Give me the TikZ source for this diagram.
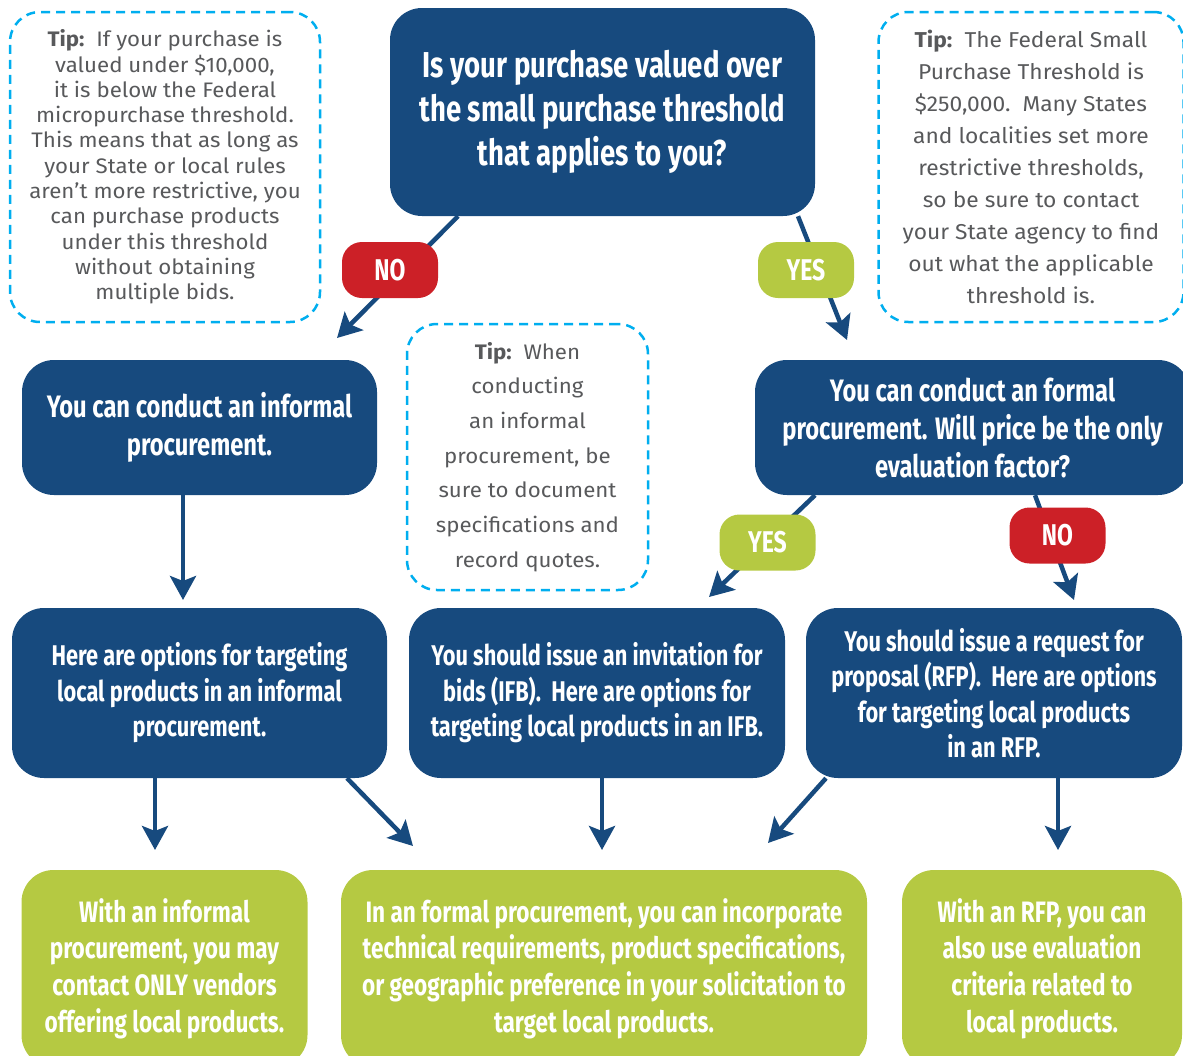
\documentclass[tikz,border=0pt]{standalone}
\usepackage{fontspec}
\usetikzlibrary{arrows.meta}
\newfontfamily\boxfont[FakeStretch=0.765]{Fira Sans}
\newfontfamily\tipfont[FakeStretch=1.06]{Fira Sans}
\definecolor{navy}{RGB}{23,74,126}
\definecolor{leaf}{RGB}{181,201,66}
\definecolor{stopred}{RGB}{204,32,39}
\definecolor{tipblue}{RGB}{0,174,239}
\definecolor{tipgray}{RGB}{88,89,91}

\begin{document}
\begin{tikzpicture}[x=1pt,y=-1pt,
    box/.style={fill=navy, text=white, rounded corners=32pt, align=center, inner sep=0pt, font=\boxfont\bfseries},
    endbox/.style={box, fill=leaf},
    badge/.style={box, rounded corners=20pt, minimum width=96pt, minimum height=56pt, font=\boxfont\bfseries\fontsize{30}{34}\selectfont},
    tipbox/.style={draw=tipblue, line width=2.5pt, dash pattern=on 9pt off 6pt, rounded corners=30pt, align=center, inner sep=0pt, text=tipgray},
    arr/.style={draw=navy, line width=4.5pt, -{Stealth[length=24pt, width=26pt, inset=5pt]}}]
    \useasboundingbox (0,0) rectangle (1183,1055);

    \node[tipbox, minimum width=310pt, minimum height=310pt, font=\tipfont\fontsize{21}{25.3}\selectfont] (tipMicro) at (165,167)
        {\textbf{Tip:}\ \ If your purchase is\\valued under \$10,000,\\it is below the Federal\\micropurchase threshold.\\This means that as long as\\your State or local rules\\aren’t more restrictive, you\\can purchase products\\under this threshold\\without obtaining\\multiple bids.};
    \node[tipbox, minimum width=305pt, minimum height=310pt, font=\tipfont\fontsize{21.5}{32}\selectfont] (tipSmall) at (1031,167)
        {\textbf{Tip:}\ \ The Federal Small\\Purchase Threshold is\\\$250,000.\ \ Many States\\and localities set more\\restrictive thresholds,\\so be sure to contact\\your State agency to find\\out what the applicable\\threshold is.};
    \node[tipbox, minimum width=241pt, minimum height=266pt, font=\tipfont\fontsize{21}{34.7}\selectfont] (tipRecord) at (527.5,457)
        {\textbf{Tip:}\ \ When\\conducting\\an informal\\procurement, be\\sure to document\\specifications and\\record quotes.};

    \node[box, minimum width=425pt, minimum height=208pt, font=\boxfont\bfseries\fontsize{36}{44}\selectfont] (q) at (602.5,112)
        {Is your purchase valued over\\the small purchase threshold\\that applies to you?};
    \node[box, minimum width=355pt, minimum height=135pt, font=\boxfont\bfseries\fontsize{31}{38}\selectfont] (inf) at (199.5,427.5)
        {You can conduct an informal\\procurement.};
    \node[box, minimum width=435pt, minimum height=135pt, font=\boxfont\bfseries\fontsize{31}{38}\selectfont] (frm) at (972.5,427.5)
        {You can conduct an formal\\procurement. Will price be the only\\evaluation factor?};

    \node[box, minimum width=375pt, minimum height=170pt, font=\boxfont\bfseries\fontsize{28.5}{35.5}\selectfont] (optInf) at (199.5,693)
        {Here are options for targeting\\local products in an informal\\procurement.};
    \node[box, minimum width=376pt, minimum height=170pt, font=\boxfont\bfseries\fontsize{28.5}{35.5}\selectfont] (optIFB) at (597,693)
        {You should issue an invitation for\\bids (IFB).\ \ Here are options for\\targeting local products in an IFB.};
    \node[box, minimum width=376pt, minimum height=170pt, font=\boxfont\bfseries\fontsize{28.5}{35.5}\selectfont] (optRFP) at (994,693)
        {You should issue a request for\\proposal (RFP).\ \ Here are options\\for targeting local products\\in an RFP.};

    \node[endbox, minimum width=286pt, minimum height=197pt, font=\boxfont\bfseries\fontsize{29.5}{36.7}\selectfont] (endInf) at (164.5,968.5)
        {With an informal\\procurement, you may\\contact ONLY vendors\\offering local products.};
    \node[endbox, minimum width=526pt, minimum height=197pt, font=\boxfont\bfseries\fontsize{29.5}{36.7}\selectfont] (endFormal) at (604,968.5)
        {In an formal procurement, you can incorporate\\technical requirements, product specifications,\\or geographic preference in your solicitation to\\target local products.};
    \node[endbox, minimum width=280pt, minimum height=197pt, font=\boxfont\bfseries\fontsize{29.5}{36.7}\selectfont] (endRFP) at (1042,968.5)
        {With an RFP, you can\\also use evaluation\\criteria related to\\local products.};

    \coordinate (toInf) at (337,338);
    \coordinate (toFrm) at (847,340);
    \coordinate (toOptInf) at (183,600);
    \coordinate (toOptIFB) at (709,597);
    \coordinate (toOptRFP) at (1074,600);
    \coordinate (toEndInf) at (155,850);
    \coordinate (toEndFormalL) at (413,846);
    \coordinate (toEndFormalM) at (602,850);
    \coordinate (toEndFormalR) at (768,843);
    \coordinate (toEndRFP) at (1058,850);

    \draw[arr] ([xshift=-144.5pt]q.south) -- (toInf);
    \draw[arr] ([xshift=195.5pt]q.south) -- (toFrm);
    \draw[arr] (inf.south -| toOptInf) -- (toOptInf);
    \draw[arr] ([xshift=-157.5pt]frm.south) -- (toOptIFB);
    \draw[arr] ([xshift=62.5pt]frm.south) -- (toOptRFP);
    \draw[arr] ([xshift=147.5pt]optInf.south) -- (toEndFormalL);
    \draw[arr] ([xshift=-168pt]optRFP.south) -- (toEndFormalR);
    \foreach \src/\dst in {optInf/toEndInf, optIFB/toEndFormalM, optRFP/toEndRFP}
        \draw[arr] (\src.south -| \dst) -- (\dst);

    \node[badge, fill=stopred] (noSmall) at (390,270) {NO};
    \node[badge, fill=leaf] (yesSmall) at (806,270) {YES};
    \node[badge, fill=leaf] (yesPrice) at (767.5,542.5) {YES};
    \node[badge, fill=stopred] (noPrice) at (1057.5,535.5) {NO};
\end{tikzpicture}
\end{document}
